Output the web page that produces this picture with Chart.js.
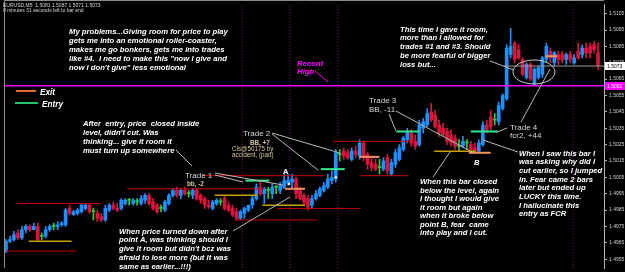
<!DOCTYPE html>
<html>
<head>
<meta charset="utf-8">
<script src="https://cdn.jsdelivr.net/npm/chart.js@4"></script>
<style>
  html, body { margin: 0; padding: 0; background: #000; }
  canvas { display: block; }
</style>
</head>
<body>
<canvas id="chart" width="625" height="272"></canvas>
<script>
// EURUSD M5 bars: [open, high, low, close]
const candles = [
  [1.4960,1.4967,1.4959,1.4966],[1.4966,1.4969,1.4965,1.4967],[1.4967,1.4972,1.4966,1.4970],[1.4971,1.4973,1.4967,1.4968],
  [1.4968,1.4975,1.4967,1.4973],[1.4973,1.4976,1.4971,1.4975],[1.4975,1.4976,1.4972,1.4973],[1.4973,1.4977,1.4973,1.4975],
  [1.4975,1.4977,1.4966,1.4967],[1.4969,1.4971,1.4967,1.4969],[1.4969,1.4975,1.4968,1.4973],[1.4973,1.4976,1.4972,1.4975],
  [1.4975,1.4977,1.4973,1.4975],[1.4975,1.4978,1.4973,1.4976],[1.4976,1.4978,1.4975,1.4977],[1.4976,1.4986,1.4975,1.4985],
  [1.4986,1.4988,1.4982,1.4983],[1.4982,1.4985,1.4982,1.4984],[1.4983,1.4986,1.4982,1.4985],[1.4984,1.4989,1.4983,1.4988],
  [1.4986,1.4989,1.4985,1.4988],[1.4988,1.4989,1.4983,1.4984],[1.4984,1.4986,1.4979,1.4984],[1.4983,1.4985,1.4978,1.4980],
  [1.4981,1.4983,1.4978,1.4979],[1.4979,1.4988,1.4978,1.4986],[1.4985,1.4989,1.4984,1.4988],[1.4988,1.4990,1.4985,1.4986],
  [1.4986,1.4989,1.4984,1.4985],[1.4986,1.4992,1.4985,1.4991],[1.4989,1.4992,1.4988,1.4991],[1.4991,1.4992,1.4988,1.4991],
  [1.4989,1.4992,1.4988,1.4991],[1.4990,1.4992,1.4988,1.4990],[1.4989,1.4994,1.4988,1.4992],[1.4991,1.4995,1.4989,1.4994],
  [1.4994,1.4995,1.4988,1.4989],[1.4990,1.4992,1.4985,1.4986],[1.4988,1.4989,1.4983,1.4984],[1.4986,1.4988,1.4984,1.4986],
  [1.4985,1.4991,1.4984,1.4990],[1.4989,1.4995,1.4988,1.4994],[1.4994,1.4998,1.4993,1.4997],[1.4997,1.4999,1.4993,1.4994],
  [1.4994,1.4998,1.4992,1.4997],[1.4997,1.4999,1.4994,1.4995],[1.4995,1.4997,1.4993,1.4995],[1.4994,1.4998,1.4992,1.4997],
  [1.4997,1.4998,1.4991,1.4992],[1.4994,1.4995,1.4989,1.4991],[1.4992,1.4993,1.4986,1.4988],[1.4988,1.4991,1.4986,1.4987],
  [1.4986,1.4991,1.4985,1.4990],[1.4989,1.4992,1.4988,1.4991],[1.4990,1.4992,1.4988,1.4990],[1.4992,1.4994,1.4985,1.4986],
  [1.4988,1.4990,1.4984,1.4985],[1.4986,1.4988,1.4981,1.4982],[1.4984,1.4986,1.4979,1.4980],[1.4980,1.4985,1.4979,1.4984],
  [1.4983,1.4987,1.4980,1.4986],[1.4985,1.4988,1.4984,1.4988],[1.4988,1.4994,1.4986,1.4992],[1.4992,1.5001,1.4991,1.4999],
  [1.4999,1.5002,1.4994,1.4995],[1.4995,1.4999,1.4989,1.4998],[1.4997,1.4999,1.4992,1.4997],[1.4995,1.5001,1.4992,1.4999],
  [1.4999,1.5000,1.4995,1.4999],[1.4997,1.5002,1.4995,1.5000],[1.4999,1.5007,1.4998,1.5003],[1.5001,1.5007,1.5000,1.5003],
  [1.5002,1.5007,1.4998,1.5004],[1.5004,1.5005,1.4992,1.4995],[1.4997,1.4999,1.4991,1.4992],[1.4994,1.4995,1.4988,1.4990],
  [1.4992,1.4994,1.4985,1.4987],[1.4988,1.4994,1.4986,1.4992],[1.4992,1.4997,1.4991,1.4995],[1.4994,1.4999,1.4993,1.4998],
  [1.4997,1.5002,1.4996,1.5000],[1.4999,1.5007,1.4998,1.5004],[1.5003,1.5009,1.5001,1.5005],[1.5004,1.5022,1.5002,1.5020],
  [1.5019,1.5022,1.5015,1.5019],[1.5021,1.5023,1.5016,1.5018],[1.5020,1.5022,1.5016,1.5017],[1.5016,1.5023,1.5015,1.5021],
  [1.5021,1.5024,1.5017,1.5019],[1.5018,1.5028,1.5016,1.5026],[1.5026,1.5027,1.5015,1.5017],[1.5019,1.5020,1.5010,1.5013],
  [1.5014,1.5017,1.5009,1.5011],[1.5013,1.5016,1.5009,1.5010],[1.5011,1.5016,1.5007,1.5011],[1.5010,1.5017,1.5009,1.5015],
  [1.5017,1.5019,1.5007,1.5009],[1.5007,1.5016,1.5006,1.5014],[1.5013,1.5022,1.5011,1.5020],[1.5016,1.5025,1.5015,1.5023],
  [1.5022,1.5030,1.5021,1.5029],[1.5028,1.5035,1.5026,1.5033],[1.5032,1.5034,1.5024,1.5026],[1.5027,1.5031,1.5022,1.5024],
  [1.5025,1.5040,1.5024,1.5037],[1.5035,1.5041,1.5032,1.5039],[1.5037,1.5047,1.5036,1.5044],[1.5045,1.5050,1.5039,1.5040],
  [1.5043,1.5046,1.5035,1.5036],[1.5037,1.5040,1.5030,1.5032],[1.5035,1.5038,1.5030,1.5031],[1.5033,1.5035,1.5025,1.5027],
  [1.5031,1.5034,1.5024,1.5026],[1.5029,1.5031,1.5022,1.5024],[1.5024,1.5028,1.5021,1.5024],[1.5024,1.5030,1.5023,1.5027],
  [1.5026,1.5028,1.5022,1.5026],[1.5025,1.5027,1.5020,1.5022],[1.5023,1.5026,1.5020,1.5021],[1.5021,1.5028,1.5020,1.5026],
  [1.5025,1.5039,1.5024,1.5037],[1.5037,1.5040,1.5032,1.5034],[1.5042,1.5046,1.5034,1.5036],[1.5040,1.5044,1.5037,1.5040],
  [1.5039,1.5051,1.5037,1.5049],[1.5047,1.5056,1.5046,1.5055],[1.5053,1.5086,1.5052,1.5084],[1.5080,1.5096,1.5078,1.5085],
  [1.5087,1.5088,1.5075,1.5077],[1.5083,1.5086,1.5077,1.5078],[1.5077,1.5078,1.5067,1.5068],[1.5066,1.5075,1.5065,1.5074],
  [1.5074,1.5075,1.5064,1.5065],[1.5062,1.5072,1.5061,1.5071],[1.5066,1.5073,1.5065,1.5072],[1.5068,1.5079,1.5066,1.5078],
  [1.5077,1.5087,1.5075,1.5085],[1.5082,1.5084,1.5075,1.5078],[1.5075,1.5082,1.5073,1.5081],[1.5080,1.5082,1.5074,1.5077],
  [1.5080,1.5082,1.5075,1.5077],[1.5077,1.5081,1.5074,1.5080],[1.5080,1.5082,1.5075,1.5077],[1.5075,1.5080,1.5074,1.5078],
  [1.5082,1.5087,1.5077,1.5078],[1.5080,1.5086,1.5078,1.5084],[1.5084,1.5087,1.5078,1.5081],[1.5085,1.5087,1.5078,1.5081],
  [1.5086,1.5088,1.5081,1.5083],[1.5081,1.5087,1.5071,1.5073]
];

const yTickLabels = ['1.4955','1.4965','1.4975','1.4985','1.4995','1.5005','1.5015','1.5025',
                     '1.5035','1.5045','1.5055','1.5065','1.5075','1.5085','1.5095','1.5105'];

// drawn levels: [price, fromBar, toBar, kind]
const levels = [
  [1.4960, 0, 17.75, 'red'], [1.4966, 5.75, 16.5, 'olive'], [1.4989, 2.75, 23.75, 'red'],
  [1.4998, 30.5, 65, 'red'], [1.5006, 49.5, 80, 'red'], [1.4994, 52.5, 63.25, 'olive'],
  [1.4988, 64.5, 75.25, 'olive'], [1.4986, 68.25, 89, 'red'], [1.4979, 57.5, 78.25, 'red'],
  [1.5027, 82.25, 102, 'red'], [1.5006, 89.25, 101.25, 'red'], [1.5021, 107.75, 118.25, 'olive'],
  [1.5003, 60.25, 66.25, 'entry'], [1.4998, 70.25, 75.25, 'exit'],
  [1.5010, 79.25, 85.25, 'entry'], [1.50175, 89, 94, 'exit'],
  [1.5033, 98.25, 104, 'entry'], [1.5020, 116.5, 122, 'exit'],
  [1.5033, 117, 123.75, 'entry'], [1.5079, 135.75, 138.75, 'exit']
];
const separators = [59.5, 71.5, 83.5, 142.75];
const recentHigh = 1.5061;
const marks = [[71.25, 1.5001], [83, 1.5005]];

const lastBar = candles[candles.length - 1];
const levelStyle = {
  red:   { color: '#c80000', width: 1 },
  olive: { color: '#c8a000', width: 1.5 },
  entry: { color: '#33e88a', width: 2 },
  exit:  { color: '#f59060', width: 2 }
};
const bull = '#1e90ff', bear = '#dc143c', doji = '#32cd32';
const colorOf = c => c[3] > c[0] ? bull : (c[3] < c[0] ? bear : doji);
const yMin = 1.49496, yMax = 1.51109;

const datasets = [];
levels.forEach(l => {
  datasets.push({
    type: 'line', order: 0,
    data: [{ x: l[1], y: l[0] }, { x: l[2], y: l[0] }],
    borderColor: levelStyle[l[3]].color, borderWidth: levelStyle[l[3]].width,
    pointRadius: 0
  });
});
separators.forEach(s => {
  datasets.push({
    type: 'line', order: 3,
    data: [{ x: s, y: yMin }, { x: s, y: yMax }],
    borderColor: '#6e1070', borderWidth: 1, borderDash: [1, 2], pointRadius: 0
  });
});
datasets.push({
  type: 'line', order: 0,
  data: [{ x: -0.5, y: recentHigh }, { x: 150.5, y: recentHigh }],
  borderColor: '#ff00ff', borderWidth: 1.5, pointRadius: 0
});
datasets.push({
  type: 'line', order: 0,
  data: [{ x: 125.25, y: lastBar[3] }, { x: 150.5, y: lastBar[3] }],
  borderColor: '#9a9a9a', borderWidth: 1, pointRadius: 0
});
datasets.push({
  type: 'bar', order: 2, grouped: false, barThickness: 1,
  data: candles.map((c, i) => ({ x: i, y: [c[2], c[1]] })),
  backgroundColor: candles.map(colorOf)
});
datasets.push({
  type: 'bar', order: 1, grouped: false, barThickness: 3, minBarLength: 1,
  data: candles.map((c, i) => ({ x: i, y: [c[0], c[3]] })),
  backgroundColor: candles.map(colorOf)
});
datasets.push({
  type: 'scatter', order: 0,
  data: marks.map(m => ({ x: m[0], y: m[1] })),
  pointStyle: 'rect', pointRadius: 1.5, backgroundColor: '#ffffff', borderWidth: 0
});

const italic = 'italic bold 7.7px "Liberation Sans"';
function block(ctx, lines, x, y0, lh, font, color) {
  ctx.font = font;
  ctx.fillStyle = color;
  lines.forEach((t, k) => ctx.fillText(t, x, y0 + k * lh));
}
function seg(ctx, pts, color) {
  ctx.strokeStyle = color;
  ctx.lineWidth = 1;
  ctx.beginPath();
  ctx.moveTo(pts[0], pts[1]);
  ctx.lineTo(pts[2], pts[3]);
  ctx.stroke();
}

const annot = {
  id: 'annot',
  afterDraw(chart) {
    const ctx = chart.ctx;
    const ys = chart.scales.y;
    const area = chart.chartArea;
    ctx.save();
    ctx.textBaseline = 'alphabetic';
    ctx.textAlign = 'left';

    // frame
    ctx.strokeStyle = '#8c8c8c';
    ctx.lineWidth = 1;
    ctx.beginPath();
    ctx.moveTo(area.left + 0.5, area.bottom);
    ctx.lineTo(area.left + 0.5, 0.5);
    ctx.lineTo(area.right, 0.5);
    ctx.stroke();

    // header
    ctx.font = '5px "Liberation Sans"';
    ctx.fillStyle = '#d8d8d8';
    ctx.fillText('EURUSD,M5  ' + lastBar.map(v => v.toFixed(4)).join(' '), 3, 7);
    ctx.fillText('0 minutes 31 seconds left to bar end', 3, 12);

    // leader lines
    const grey = '#b8b8b8';
    [[176,150,192,166],[215,173,283,185],[215,175,243,182],[272,133,340,153],[272,134,318,170],
     [389,114,396,131],[396,111,472,152],[490,61,514,70],[521,122,550,69],[507,128,497,132],
     [233,231,290,197],[433,177,450,152],[518,152,483,140]].forEach(p => seg(ctx, p, grey));
    seg(ctx, [315, 71, 328, 82], '#ff00ff');

    // circle round the dip
    ctx.strokeStyle = '#c8c8c8';
    ctx.beginPath();
    ctx.ellipse(534, 72, 21, 12, 0, 0, Math.PI * 2);
    ctx.stroke();

    // legend
    ctx.lineWidth = 2;
    ctx.strokeStyle = '#e06a3a';
    ctx.beginPath(); ctx.moveTo(16, 91); ctx.lineTo(36, 91); ctx.stroke();
    ctx.strokeStyle = '#22c46a';
    ctx.beginPath(); ctx.moveTo(15, 103); ctx.lineTo(38, 103); ctx.stroke();
    ctx.font = 'italic bold 8.2px "Liberation Sans"';
    ctx.fillStyle = '#ffffff';
    ctx.fillText('Exit', 40, 94.5);
    ctx.fillText('Entry', 42, 106.5);

    // comment blocks
    const white = '#ffffff';
    block(ctx, ['My problems...Giving room for price to play',
                'gets me into an emotional roller-coaster,',
                'makes me go bonkers, gets me into trades',
                'like #4.  I need to make this "now I give and',
                'now I don\'t give" less emotional'], 69, 34, 9, italic, white);
    block(ctx, ['After  entry, price  closed inside',
                'level, didn\'t cut. Was',
                'thinking... give it room it',
                'must turn up somewhere'], 83, 126, 9, italic, white);
    block(ctx, ['This time I gave it room,',
                'more than I allowed for',
                'trades #1 and #3. Should',
                'be more fearful of bigger',
                'loss but...'], 400, 31.5, 8.9, italic, white);
    block(ctx, ['When price turned down after',
                'point A, was thinking should I',
                'give it room but didn\'t bcz was',
                'afraid to lose more (but it was',
                'same as earlier...!!!)'], 119, 233.5, 8.9, italic, white);
    block(ctx, ['When this bar closed',
                'below the level, again',
                'I thought I would give',
                'it room but again',
                'when it broke below',
                'point B, fear  came',
                'into play and I cut.'], 420, 184, 8.5, italic, white);
    block(ctx, ['When I saw this bar I',
                'was asking why did I',
                'cut earlier, so I jumped',
                'in. Fear came 2 bars',
                'later but ended up',
                'LUCKY this time.',
                'I hallucinate this',
                'entry as FCR'], 519, 155.5, 8.7, italic, white);
    block(ctx, ['Recent', 'High'], 297, 65.5, 8.5, 'italic bold 7.8px "Liberation Sans"', '#ff00ff');

    // trade labels
    const lbl = '8px "Liberation Sans"', lc = '#d8d8d8';
    const small = 'bold 6.3px "Liberation Sans"', sc = '#d8c49a';
    block(ctx, ['Trade 1'], 185, 178, 9, lbl, lc);
    block(ctx, ['bb, -2'], 187, 186, 9, small, sc);
    block(ctx, ['Trade 2'], 243, 135.5, 9, lbl, lc);
    block(ctx, ['BB, +7'], 250, 144.5, 9, small, sc);
    block(ctx, ['Cls@50175 by', 'accident, (pad)'], 232, 150.5, 6, '6.3px "Liberation Sans"', sc);
    block(ctx, ['Trade 3', 'BB, -11'], 369, 103, 8.5, lbl, lc);
    block(ctx, ['Trade 4', 'fcr2, +44'], 510, 129.5, 8, lbl, lc);
    block(ctx, ['A'], 283, 174, 9, 'bold 7.5px "Liberation Sans"', white);
    block(ctx, ['B'], 474, 164.5, 9, 'italic bold 7.5px "Liberation Sans"', white);

    // price boxes on the axis
    const box = (p, text, bg, fg) => {
      const y = Math.round(ys.getPixelForValue(p));
      ctx.fillStyle = bg;
      ctx.fillRect(area.right + 1, y - 4, 20, 8);
      ctx.font = '5px "Liberation Sans"';
      ctx.fillStyle = fg;
      ctx.fillText(text, area.right + 3, y + 2);
    };
    box(lastBar[3], lastBar[3].toFixed(4), '#ffffff', '#000000');
    box(recentHigh, recentHigh.toFixed(4), '#ff00ff', '#ffffff');
    ctx.restore();
  }
};

new Chart(document.getElementById('chart').getContext('2d'), {
  type: 'bar',
  data: { datasets: datasets },
  options: {
    responsive: false,
    animation: false,
    devicePixelRatio: 1,
    layout: { padding: 0 },
    plugins: { legend: { display: false }, tooltip: { enabled: false } },
    scales: {
      x: { type: 'linear', min: -0.5, max: 150.5, offset: false, display: false },
      y: {
        position: 'right',
        min: yMin, max: yMax,
        afterBuildTicks: s => { s.ticks = yTickLabels.map(v => ({ value: parseFloat(v) })); },
        afterFit: s => { s.width = 21; s.paddingTop = 0; s.paddingBottom = 0; },
        ticks: {
          color: '#d0d0d0', padding: 2, autoSkip: false,
          font: { size: 5, family: 'Liberation Sans' },
          callback: v => v.toFixed(4)
        },
        grid: { drawOnChartArea: false, color: '#b0b0b0', tickLength: 3 },
        border: { color: '#b0b0b0' }
      }
    }
  },
  plugins: [annot]
});
</script>
</body>
</html>
